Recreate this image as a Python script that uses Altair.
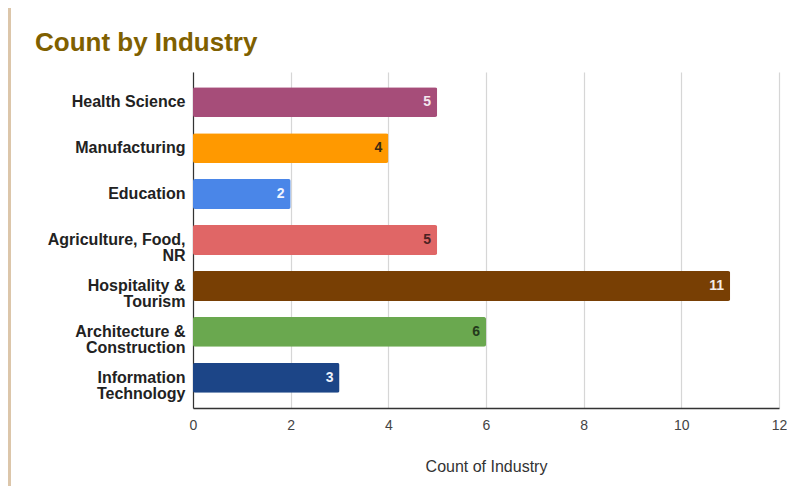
import altair as alt
import pandas as pd

industries = ["Health Science", "Manufacturing", "Education", "Agriculture, Food,|NR",
              "Hospitality &|Tourism", "Architecture &|Construction", "Information|Technology"]
counts = [5, 4, 2, 5, 11, 6, 3]
colors = ["#a64d79", "#ff9900", "#4a86e8", "#e06666", "#783f04", "#6aa84f", "#1c4587"]
label_colors = ["#f4e6ee", "#3a2a10", "#f0f4ff", "#4a2222", "#f4ece4", "#243a1c", "#eef2fa"]
x_ticks = [0, 2, 4, 6, 8, 10, 12]

df = pd.DataFrame({"industry": industries, "count": counts,
                   "color": colors, "lcolor": label_colors})

W, H = 586, 336

y_enc = alt.Y("industry:N", sort=industries,
              scale=alt.Scale(paddingInner=0.35, paddingOuter=0.33),
              axis=alt.Axis(title=None, labelExpr="split(datum.label, '|')",
                            labelFont="Liberation Sans", labelFontSize=16, labelFontWeight="bold",
                            labelColor="#222222", labelLineHeight=16, labelPadding=8,
                            ticks=False, domainColor="#333333", domainWidth=1.2,
                            labelLimit=220))
x_enc = alt.X("count:Q", scale=alt.Scale(domain=[0, 12], nice=False),
              axis=alt.Axis(values=x_ticks, title="Count of Industry", labelFlush=False,
                            labelFont="Liberation Sans", labelFontSize=14, labelColor="#444444",
                            labelPadding=10, ticks=False, domainColor="#333333", domainWidth=1.5,
                            gridColor="#d6d6d6", gridWidth=1.2,
                            titleFont="Liberation Sans", titleFontSize=16, titleFontWeight="normal",
                            titleColor="#333333", titlePadding=26))

bars = alt.Chart(df).mark_bar(cornerRadius=2).encode(
    x=x_enc, y=y_enc, color=alt.Color("color:N", scale=None))

labels = alt.Chart(df).mark_text(align="right", dx=-6, font="Liberation Sans",
                                 fontSize=14, fontWeight="bold").encode(
    x="count:Q", y=alt.Y("industry:N", sort=industries), text="count:Q",
    color=alt.Color("lcolor:N", scale=None))

strip = alt.Chart(pd.DataFrame({"a": [0]})).mark_rect(color="#dcc6aa").encode(
    x=alt.value(-185), x2=alt.value(-182), y=alt.value(-64), y2=alt.value(H + 80))

chart = alt.layer(strip, bars, labels).properties(
    width=W, height=H,
    background="white",
    padding={"left": 185, "top": 64, "right": 8, "bottom": 78},
    autosize=alt.AutoSizeParams(type="none"),
    title=alt.TitleParams("Count by Industry", anchor="start", frame="group", dx=-158,
                          offset=-69, baseline="alphabetic",
                          font="Liberation Sans", fontSize=26, fontWeight="bold",
                          color="#7f6000"),
).configure_view(stroke=None)

chart.save("out.html", embed_options={"renderer": "svg", "actions": False})
